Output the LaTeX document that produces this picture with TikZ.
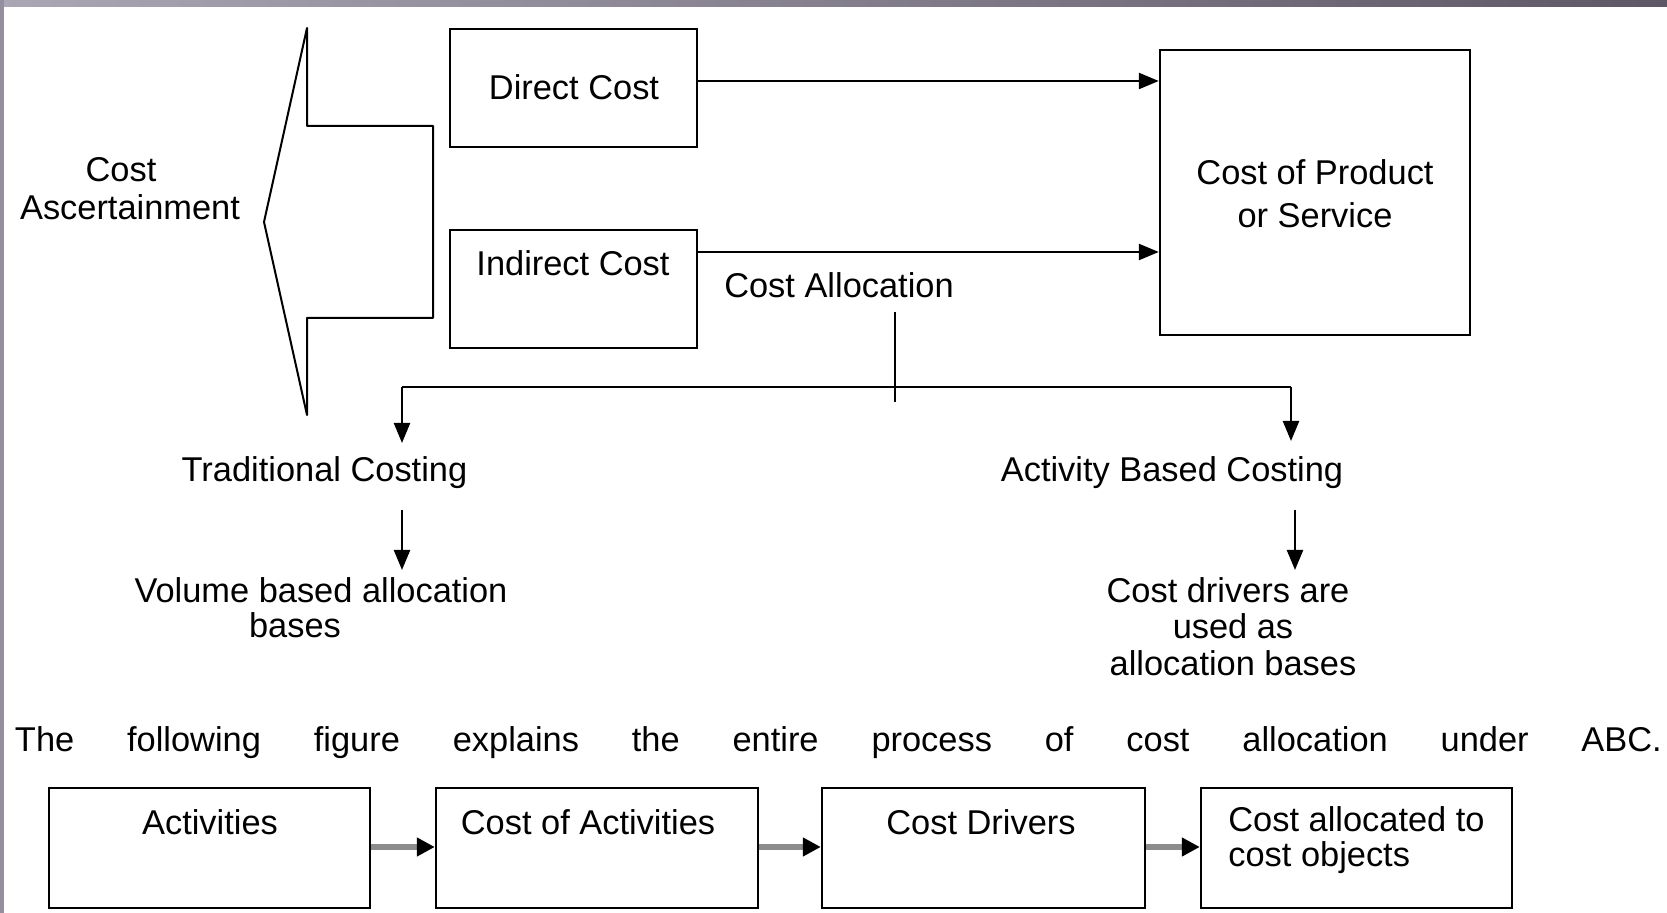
\documentclass[tikz,border=0pt]{standalone}
\usepackage{fontspec}
\setmainfont{Liberation Sans}
\usetikzlibrary{arrows.meta}
\definecolor{barL}{HTML}{ABA6B4}
\definecolor{barR}{HTML}{5E5866}
\definecolor{stripc}{HTML}{948E9E}
\begin{document}
\begin{tikzpicture}[x=0.5pt,y=-0.5pt,
  every node/.style={font=\fontsize{17.2}{18}\selectfont, inner sep=0pt},
  box/.style={draw, line width=1.2pt, inner sep=0pt},
  line/.style={line width=1.2pt},
  conn/.style={line width=1.2pt, -{Triangle[length=10pt,width=8pt]}},
  flow/.style={line width=2.6pt, draw=black!45, -{Triangle[length=9pt,width=9pt,color=black]}},
  ]
% background and frame
\fill[white] (0,0) rectangle (1667,913);
\useasboundingbox (0,0) rectangle (1667,913);
\shade[left color=barL, right color=barR] (0,0) rectangle (1667,7);
\fill[stripc] (0,0) rectangle (4,913);

% chevron
\draw[line width=1pt, line join=round] (264,222) -- (307,28) -- (307,126) -- (433,126) -- (433,318) -- (307,318) -- (307,415) -- cycle;
\node[align=center, font=\fontsize{17.2}{19}\selectfont] (asc) at (130,189) {Cost\hspace*{9pt}\\Ascertainment};

% top boxes
\node[box, minimum width=123.5pt, minimum height=59pt] (dc) at (573.5,88) {};
\node (dct) at (574,87) {Direct Cost};
\node[box, minimum width=123.5pt, minimum height=59pt] (ic) at (573.5,289) {};
\node (ict) at (573,263) {Indirect Cost};
\node[box, minimum width=155pt, minimum height=142.5pt] (cop) at (1315,192.5) {};
\node[align=center, font=\fontsize{17.2}{21.5}\selectfont] (copt) at (1315,193.5) {Cost of Product\\or Service};

\coordinate (dcout) at ([yshift=3.5pt]dc.east);
\coordinate (icout) at ([yshift=18.5pt]ic.east);
\draw[conn] (dcout) -- (dcout -| cop.west);
\draw[conn] (icout) -- (icout -| cop.west);

% cost allocation
\node (cal) at (839,285) {Cost Allocation};
\coordinate (vtop) at (895,312);
\coordinate (vbot) at (895,402);
\draw[line] (vtop) -- (vbot);
\coordinate (hl) at (402,387);
\coordinate (hr) at (1291,387);
\draw[line] (hl) -- (hr);
\coordinate (tcin) at (402,443);
\coordinate (abin) at (1291,441);
\draw[conn] (hl) -- (tcin);
\draw[conn] (hr) -- (abin);

\node (tc) at (324.5,473) {Traditional Costing};
\node (abc) at (1172,473) {Activity Based Costing};

\coordinate (tcout) at (402,510);
\coordinate (vbin) at (402,570);
\coordinate (about) at (1295,510);
\coordinate (cdin) at (1295,570);
\draw[conn] (tcout) -- (vbin);
\draw[conn] (about) -- (cdin);

\node[align=center, font=\fontsize{17.2}{17.5}\selectfont] (vb) at (321,607.5) {Volume based allocation\\bases\hspace*{26pt}};
\node[align=center, font=\fontsize{17.2}{18.25}\selectfont] (cdr) at (1233,626.5) {Cost drivers are\hspace*{5pt}\\used as\hspace*{13pt}\\allocation bases};

% sentence
\node (sent) at (838.5,743) {\makebox[823.5pt][s]{The following figure explains the entire process of cost allocation under ABC.}};

% bottom flow
\node[box, minimum width=160.5pt, minimum height=60pt] (act) at (209.5,848) {};
\node (actt) at (210,822) {Activities};
\node[box, minimum width=161pt, minimum height=60pt] (coa) at (597,848) {};
\node (coat) at (588,822) {Cost of Activities};
\node[box, minimum width=161.5pt, minimum height=60pt] (cd) at (983.5,848) {};
\node (cdt) at (981,822) {Cost Drivers};
\node[box, minimum width=155.5pt, minimum height=60pt] (cao) at (1356.5,848) {};
\node[align=left, anchor=west, font=\fontsize{17.2}{17.5}\selectfont] (caot) at (1228,840.5) {Cost allocated to\\cost objects};

\draw[flow] ([yshift=0.5pt]act.east) -- ([yshift=0.5pt]coa.west);
\draw[flow] ([yshift=0.5pt]coa.east) -- ([yshift=0.5pt]cd.west);
\draw[flow] ([yshift=0.5pt]cd.east) -- ([yshift=0.5pt]cao.west);
\end{tikzpicture}
\end{document}
